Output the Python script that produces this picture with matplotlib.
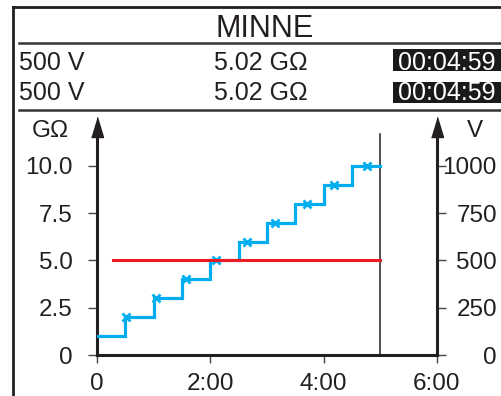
import matplotlib
matplotlib.use("Agg")
import matplotlib.pyplot as plt
from matplotlib.lines import Line2D
from matplotlib.patches import Rectangle

plt.rcParams['font.family'] = ['Liberation Sans', 'DejaVu Sans']

# header readout
title = "MINNE"
rows_voltage = ["500 V", "500 V"]
rows_resist = ["5.02 GΩ", "5.02 GΩ"]
rows_time = ["00:04:59", "00:04:59"]

# resistance steps (time in minutes, GΩ)
step_min = [0, 0.5, 1.0, 1.5, 2.0, 2.5, 3.0, 3.5, 4.0, 4.5, 4.99]
step_gohm = [1, 2, 3, 4, 5, 6, 7, 8, 9, 10, 10]

# logged points (x markers)
mark_min = [0.51, 1.04, 1.57, 2.10, 2.65, 3.15, 3.70, 4.18, 4.76]
mark_gohm = [2, 3, 4, 5, 6, 7, 8, 9, 10]

# test voltage
volt_min = [0.29, 4.99]
volt_v = [500, 500]
cursor_min = 4.99

x_ticks = [0, 2, 4, 6]
x_labels = ["0", "2:00", "4:00", "6:00"]
y_ticks = [0, 2.5, 5.0, 7.5, 10.0]
y_labels = ["0", "2.5", "5.0", "7.5", "10.0"]
v_ticks = [0, 250, 500, 750, 1000]
v_labels = ["0", "250", "500", "750", "1000"]

INK = "#231f20"
BLUE = "#00aeef"
RED = "#ed1c24"

W, H = 502, 396
fig = plt.figure(figsize=(W / 100, H / 100), dpi=100)


def fx(x):
    return x / W


def fy(y):
    return 1 - y / H


# ==========================
# Frame and header
# ==========================
fig.add_artist(Line2D([fx(13.3), fx(13.3)], [fy(7.3), 0], color=INK, lw=2.0))
fig.add_artist(Line2D([fx(13.3), 1], [fy(7.3), fy(7.3)], color=INK, lw=2.0))
for yy in (43.3, 109.5):
    fig.add_artist(Line2D([fx(19), 1], [fy(yy), fy(yy)], color="#333333", lw=1.8))

fig.text(fx(264.5), fy(36.7), title, fontsize=22, color=INK, ha="center", va="baseline")

row_base = [69.5, 100]
box_top = [49.3, 81.7]
for i in range(2):
    fig.text(fx(19.5), fy(row_base[i]), rows_voltage[i], fontsize=18, color=INK,
             ha="left", va="baseline")
    fig.text(fx(261), fy(row_base[i]), rows_resist[i], fontsize=18, color=INK,
             ha="center", va="baseline")
    fig.add_artist(Rectangle((fx(393), fy(box_top[i] + 21.4)), 1 - fx(393), 21.4 / H,
                             transform=fig.transFigure, color="#1a1a1a", lw=0))
    fig.text(fx(446.5), fy(row_base[i]), rows_time[i], fontsize=18, color="white",
             ha="center", va="baseline")

# ==========================
# Graph
# ==========================
ax = fig.add_axes([fx(97), fy(355), 340 / W, 238 / H])
ax2 = ax.twinx()
ax.set_xlim(0, 6)
ax.set_ylim(0, 12.59)
ax2.set_ylim(0, 1259)
ax.patch.set_visible(False)

ax.plot(step_min, step_gohm, drawstyle="steps-post", color=BLUE, lw=2.3,
        solid_joinstyle="miter", zorder=3)
ax.plot(mark_min, mark_gohm, "x", color=BLUE, ms=6, mew=2, zorder=4)
ax2.plot(volt_min, volt_v, color=RED, lw=2.2, zorder=2)
ax.plot([cursor_min, cursor_min], [0, 11.69], color=INK, lw=1.1, zorder=2)

for a in (ax, ax2):
    a.spines["top"].set_visible(False)
    for s in a.spines.values():
        s.set_color(INK)
        s.set_linewidth(2.2)
ax.spines["right"].set_visible(False)
ax2.spines["left"].set_visible(False)
ax2.spines["bottom"].set_visible(False)
ax.spines["left"].set_bounds(0, 11.6)
ax2.spines["right"].set_bounds(0, 1160)

# arrow heads
head = [(-6, -10), (6, -10), (0, 10)]
ax.plot([0], [12.06], marker=head, ms=14.4, color=INK, clip_on=False, zorder=5)
ax.plot([6], [12.06], marker=head, ms=14.4, color=INK, clip_on=False, zorder=5)

ax.set_xticks(x_ticks)
ax.set_xticklabels(x_labels)
ax.set_yticks(y_ticks)
ax.set_yticklabels(y_labels)
ax2.set_yticks(v_ticks)
ax2.set_yticklabels(v_labels)

ax.tick_params(axis="x", direction="out", length=5.8, width=1, color="#444444",
               labelsize=17.5, labelcolor=INK, pad=7)
ax.tick_params(axis="y", direction="out", length=6.5, width=1, color="#444444",
               labelsize=17.5, labelcolor=INK, pad=10.8)
ax2.tick_params(axis="y", direction="out", length=6.5, width=1, color="#444444",
                labelsize=17.5, labelcolor=INK, pad=36.7)
for lbl in ax2.get_yticklabels():
    lbl.set_horizontalalignment("right")

fig.text(fx(50), fy(137), "GΩ", fontsize=17.5, color=INK, ha="center", va="baseline")
fig.text(fx(475), fy(137), "V", fontsize=17.5, color=INK, ha="center", va="baseline")

fig.savefig("out.png", dpi=100)
